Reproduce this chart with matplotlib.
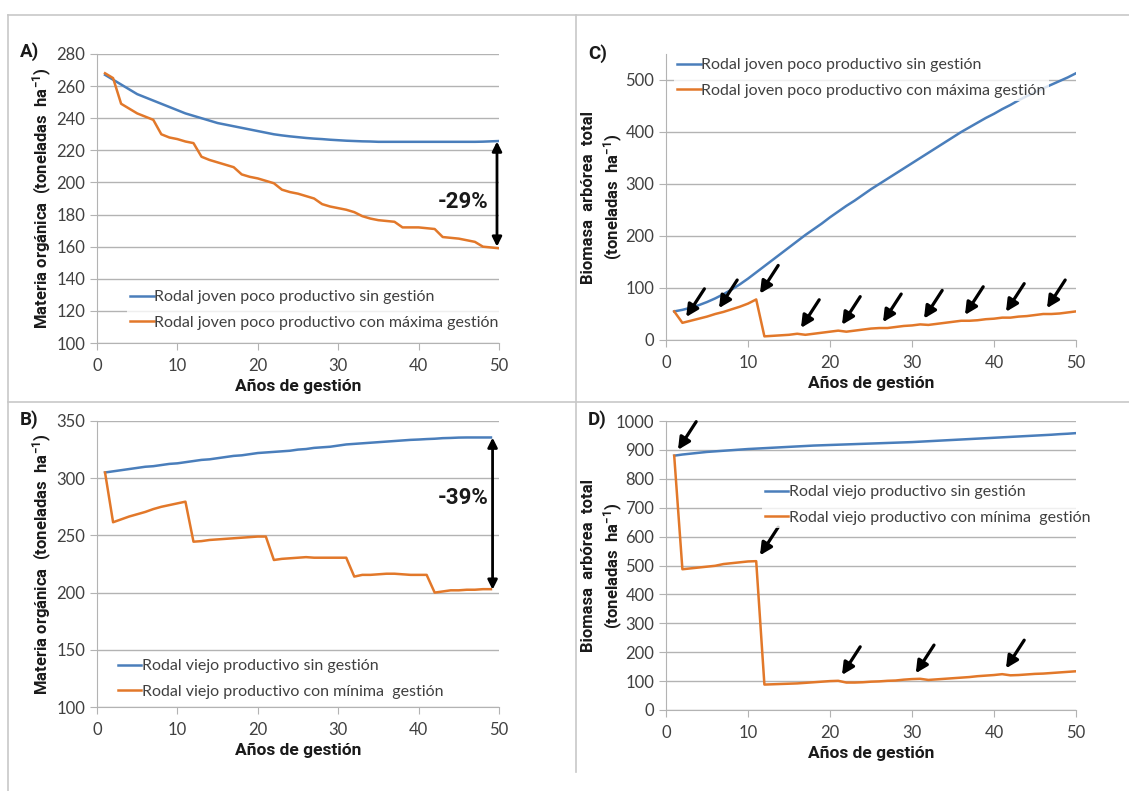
import matplotlib
matplotlib.use("Agg")
import matplotlib.pyplot as plt
from matplotlib.lines import Line2D
import numpy as np

plt.rcParams['font.family'] = ['Lato', 'DejaVu Sans']
plt.rcParams['mathtext.default'] = 'regular'
BOLD = ['Roboto', 'DejaVu Sans']

# ---------------- data ----------------
years = list(range(1, 51))
years_b = list(range(1, 50))

# A) materia organica, rodal joven poco productivo
mo_joven_sin = [267, 264, 261, 258, 255, 253, 251, 249, 247, 245,
                243, 241.5, 240, 238.5, 237, 236, 235, 234, 233, 232,
                231, 230, 229.3, 228.7, 228.2, 227.7, 227.3, 227, 226.6, 226.3,
                226, 225.8, 225.6, 225.5, 225.3, 225.3, 225.3, 225.3, 225.3, 225.3,
                225.3, 225.3, 225.3, 225.3, 225.3, 225.3, 225.3, 225.4, 225.6, 225.8]
mo_joven_max = [268, 265, 249, 246, 243, 241, 239, 230, 228, 227,
                225.5, 224.5, 216, 214, 212.5, 211, 209.5, 205, 203.5, 202.5,
                201, 199.5, 195.5, 194, 193, 191.5, 190, 186.5, 185, 184,
                183, 181.5, 179, 177.5, 176.5, 176, 175.5, 172, 172, 172,
                171.5, 171, 166, 165.5, 165, 164, 163, 160, 159.5, 159]

# B) materia organica, rodal viejo productivo
mo_viejo_sin = [305, 306, 307, 308, 309, 310, 310.5, 311.5, 312.5, 313,
                314, 315, 316, 316.5, 317.5, 318.5, 319.5, 320, 321, 322,
                322.5, 323, 323.5, 324, 325, 325.5, 326.5, 327, 327.5, 328.5,
                329.5, 330, 330.5, 331, 331.5, 332, 332.5, 333, 333.5, 333.8,
                334.2, 334.5, 335, 335.2, 335.5, 335.6, 335.6, 335.6, 335.6]
mo_viejo_min = [305, 261.5, 264, 266.5, 268.5, 270.5, 273, 275, 276.5, 278,
                279.5, 244.5, 245, 246, 246.5, 247, 247.5, 248, 248.5, 249,
                249, 228.5, 229.5, 230, 230.5, 231, 230.5, 230.5, 230.5, 230.5,
                230.5, 214, 215.5, 215.5, 216, 216.5, 216.5, 216, 215.5, 215.5,
                215.5, 200, 201, 202, 202, 202.5, 202.5, 203, 203]

# C) biomasa arborea, rodal joven poco productivo
bio_joven_sin = [55, 58, 62, 67, 73, 80, 88, 97, 107, 118,
                 130, 142, 154, 166, 178, 190, 202, 213, 224, 236,
                 247, 258, 268, 279, 290, 300, 310, 320, 330, 340,
                 350, 360, 370, 380, 390, 400, 409, 418, 427, 435,
                 444, 452, 461, 469, 476, 484, 491, 498, 505, 513]
bio_joven_max = [55, 33, 37, 41, 45, 50, 54, 59, 64, 70,
                 78, 7, 8, 9, 10, 12, 10, 12, 14, 16,
                 18, 16, 18, 20, 22, 23, 23, 25, 27, 28,
                 30, 29, 31, 33, 35, 37, 37, 38, 40, 41,
                 43, 43, 45, 46, 48, 50, 50, 51, 53, 55]
intervenciones_c = [2, 6, 11, 16, 21, 26, 31, 36, 41, 46]

# D) biomasa arborea, rodal viejo productivo
bio_viejo_sin = [880, 884, 887, 890, 893, 895, 897, 899, 901, 903,
                 904.5, 906, 907.5, 909, 910.5, 912, 913.5, 915, 916, 917,
                 918, 919, 920, 921, 922, 923, 924, 925, 926, 927,
                 928.5, 930, 931.5, 933, 934.5, 936, 937.5, 939, 940.5, 942,
                 943.5, 945, 946.5, 948, 949.5, 951, 952.5, 954.5, 956, 958]
bio_viejo_min = [880, 487, 490, 493, 496, 499, 505, 508, 511, 514,
                 515, 88, 89, 90, 91, 92, 94, 96, 98, 100,
                 101, 95, 95, 96, 98, 99, 101, 102, 105, 107,
                 108, 104, 106, 108, 110, 112, 114, 117, 119, 121,
                 124, 120, 121, 123, 125, 126, 128, 130, 132, 134]
intervenciones_d = [1, 11, 21, 30, 41]

# difference annotations (x, top, bottom)
dif_a = (49.75, 225.5, 160.0)
dif_b = (49.2, 335.5, 202.5)

BLUE = '#4a7ebb'
ORANGE = '#e2782a'
GRID = '#b3b3b3'
TXT = '#404040'

W, H = 1129, 791
fig = plt.figure(figsize=(W / 100, H / 100), dpi=100)


def px_axes(left, top, right, bottom):
    return fig.add_axes([left / W, 1 - bottom / H, (right - left) / W, (bottom - top) / H])


def style(ax, ylim, yticks, ylabel, label_x):
    ax.set_xlim(0, 50)
    ax.set_ylim(*ylim)
    ax.set_xticks([0, 10, 20, 30, 40, 50])
    ax.set_yticks(yticks)
    ax.yaxis.grid(True, color=GRID, lw=1)
    ax.set_axisbelow(True)
    for s in ['top', 'right']:
        ax.spines[s].set_visible(False)
    for s in ['left', 'bottom']:
        ax.spines[s].set_color(GRID)
    ax.tick_params(axis='both', colors=GRID, labelcolor=TXT, labelsize=12, length=5)
    ax.tick_params(axis='x', pad=6)
    ax.set_xlabel('Años de gestión', fontsize=12.5, fontweight='bold', family=BOLD,
                  color='#1a1a1a', labelpad=3)
    ax.set_ylabel(ylabel, fontsize=12, fontweight='bold', family=BOLD,
                  color='#1a1a1a', linespacing=1.35)
    ax.yaxis.set_label_coords(label_x, 0.5)


def legend(ax, loc):
    lg = ax.legend(loc='upper left', bbox_to_anchor=loc, frameon=True, fontsize=11.5,
                   handlelength=1.45, handletextpad=0.05, borderpad=0.2, labelspacing=0.7,
                   borderaxespad=0)
    lg.get_frame().set_facecolor('white')
    lg.get_frame().set_edgecolor('none')
    for t in lg.get_texts():
        t.set_color(TXT)


def arrows(ax, xs, ys, xvals):
    for yr in xvals:
        v = ys[xs.index(yr)]
        ax.annotate('', xy=(yr, v), xytext=(22, 34), textcoords='offset pixels',
                    arrowprops=dict(arrowstyle='-|>', color='black', lw=2.3,
                                    mutation_scale=18, shrinkA=0, shrinkB=5))


def diff_arrow(ax, d, text, ty):
    ax.annotate('', xy=(d[0], d[2]), xytext=(d[0], d[1]),
                arrowprops=dict(arrowstyle='<|-|>', color='black', lw=2,
                                mutation_scale=14, shrinkA=0, shrinkB=0))
    ax.text(45.6, ty, text, fontsize=16, fontweight='bold', family=BOLD, color='#1a1a1a',
            ha='center', va='center')


# A)
axA = px_axes(97, 54, 499, 343)
axA.plot(years, mo_joven_sin, color=BLUE, lw=1.8, label='Rodal joven poco productivo sin gestión')
axA.plot(years, mo_joven_max, color=ORANGE, lw=1.8, label='Rodal joven poco productivo con máxima gestión')
style(axA, (100, 280), range(100, 281, 20), 'Materia orgánica  (toneladas  ha$^{-1}$)', -0.108)
legend(axA, (0.075, 0.194))
diff_arrow(axA, dif_a, '-29%', 188)

# C)
axC = px_axes(666, 54, 1076, 340)
axC.plot(years, bio_joven_sin, color=BLUE, lw=1.8, label='Rodal joven poco productivo sin gestión')
axC.plot(years, bio_joven_max, color=ORANGE, lw=1.8, label='Rodal joven poco productivo con máxima gestión')
style(axC, (0, 550), range(0, 501, 100), 'Biomasa  arbórea  total\n(toneladas  ha$^{-1}$)', -0.1)
legend(axC, (0.02, 0.997))
arrows(axC, years, bio_joven_max, intervenciones_c)

# B)
axB = px_axes(97, 421, 499, 707)
axB.plot(years_b, mo_viejo_sin, color=BLUE, lw=1.8, label='Rodal viejo productivo sin gestión')
axB.plot(years_b, mo_viejo_min, color=ORANGE, lw=1.8, label='Rodal viejo productivo con mínima  gestión')
style(axB, (100, 350), range(100, 351, 50), 'Materia orgánica  (toneladas  ha$^{-1}$)', -0.108)
legend(axB, (0.045, 0.178))
diff_arrow(axB, dif_b, '-39%', 283)

# D)
axD = px_axes(666, 421, 1076, 710)
axD.plot(years, bio_viejo_sin, color=BLUE, lw=1.8, label='Rodal viejo productivo sin gestión')
axD.plot(years, bio_viejo_min, color=ORANGE, lw=1.8, label='Rodal viejo productivo con mínima  gestión')
style(axD, (0, 1000), range(0, 1001, 100), 'Biomasa  arbórea  total\n(toneladas  ha$^{-1}$)', -0.1)
legend(axD, (0.234, 0.789))
arrows(axD, years, bio_viejo_min, intervenciones_d)

# panel letters
for lbl, (x, y) in zip(['A)', 'C)', 'B)', 'D)'], [(20, 52), (588, 54), (20, 420), (588, 420)]):
    fig.text(x / W, 1 - y / H, lbl, fontsize=13.5, fontweight='bold', family=BOLD,
             color='#1a1a1a', va='center')

# frame lines
fc = '#c8c8c8'
fig.add_artist(Line2D([8 / W, 1], [1 - 15 / H] * 2, color=fc, lw=1.2))
fig.add_artist(Line2D([8 / W] * 2, [0, 1 - 15 / H], color=fc, lw=1.2))
fig.add_artist(Line2D([576 / W] * 2, [1 - 772 / H, 1 - 15 / H], color=fc, lw=1.2))
fig.add_artist(Line2D([8 / W, 1], [1 - 402 / H] * 2, color=fc, lw=1.2))

fig.savefig('out.png', dpi=100, facecolor='white')
